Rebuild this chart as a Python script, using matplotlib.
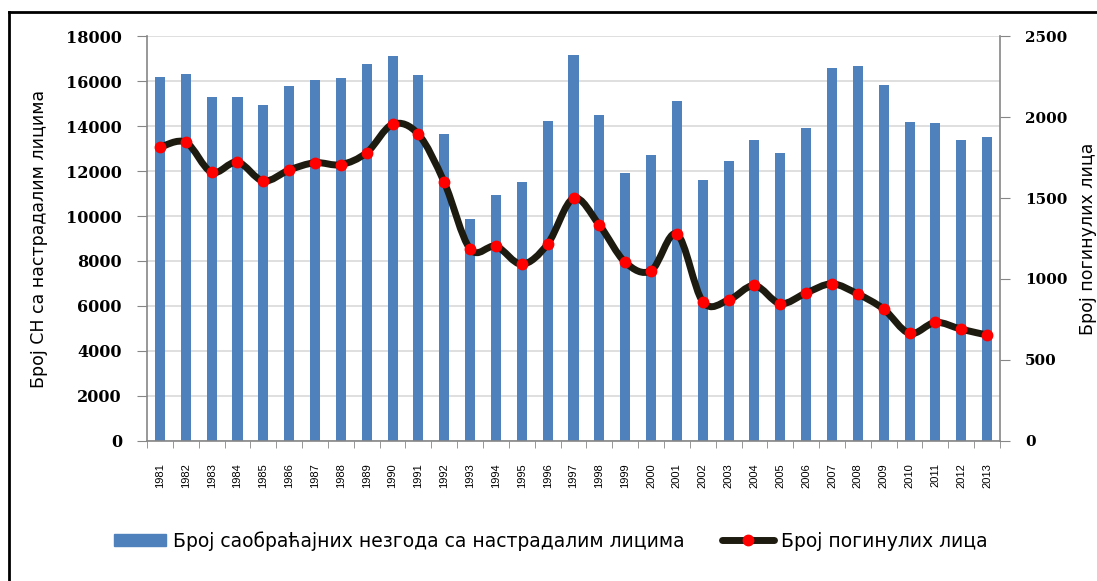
import numpy as np
import matplotlib
matplotlib.use("Agg")
import matplotlib.pyplot as plt
from matplotlib.patches import Patch, PathPatch
from matplotlib.lines import Line2D
from matplotlib.path import Path

years = [str(y) for y in range(1981, 2014)]

# broj saobracajnih nezgoda sa nastradalim licima (left axis)
accidents = [16200, 16320, 15290, 15290, 14930, 15780, 16030, 16120, 16770, 17130,
             16280, 13630, 9870, 10920, 11510, 14240, 17150, 14510, 11890, 12730,
             15110, 11590, 12430, 13380, 12780, 13930, 16600, 16650, 15810, 14170,
             14120, 13380, 13520]

# broj poginulih lica (right axis)
killed = [1813, 1844, 1659, 1722, 1605, 1673, 1718, 1706, 1780, 1955,
          1893, 1597, 1185, 1202, 1091, 1216, 1498, 1333, 1103, 1051,
          1278, 860, 870, 960, 848, 914, 970, 907, 814, 664,
          732, 690, 654]

BLUE = "#4F81BD"
LINE = "#1D1B10"
GRID = "#D9D9D9"
AXC = "#868686"


def smooth_path(x, y, t=1.0 / 6):
    # excel style smoothed line: catmull-rom as cubic bezier segments
    pts = np.column_stack([x, y]).astype(float)
    n = len(pts)
    verts = [pts[0]]
    codes = [Path.MOVETO]
    for i in range(n - 1):
        p0 = pts[i - 1] if i > 0 else pts[i]
        p1 = pts[i]
        p2 = pts[i + 1]
        p3 = pts[i + 2] if i + 2 < n else pts[i + 1]
        c1 = p1 + (p2 - p0) * t
        c2 = p2 - (p3 - p1) * t
        verts += [c1, c2, p2]
        codes += [Path.CURVE4] * 3
    return Path(verts, codes)


fig = plt.figure(figsize=(10.97, 5.81), dpi=100)
ax = fig.add_axes([0.134, 0.241, 0.9116 - 0.134, 0.938 - 0.241])
x = np.arange(len(years))

ax.bar(x, accidents, width=0.39, color=BLUE, zorder=2)
ax.set_xlim(-0.5, len(years) - 0.5)
ax.set_ylim(0, 18000)
ax.set_yticks(range(0, 18001, 2000))
ax.yaxis.grid(True, color=GRID, lw=1.2, zorder=0)
ax.set_axisbelow(True)

ax.set_xticks(x)
ax.set_xticklabels(years, rotation=90, fontsize=8, family="Liberation Sans")
ax.set_xticks(np.arange(-0.5, len(years)), minor=True)
ax.tick_params(axis="x", which="major", length=0, pad=16)
ax.tick_params(axis="x", which="minor", length=5, color=AXC, direction="out")
ax.tick_params(axis="y", length=7, color=AXC, pad=11)
for lab in ax.get_yticklabels():
    lab.set_family("DejaVu Serif")
    lab.set_fontweight("bold")
    lab.set_fontsize(11.5)

for s in ["top", "right"]:
    ax.spines[s].set_visible(False)
for s in ["left", "bottom"]:
    ax.spines[s].set_color(AXC)
    ax.spines[s].set_linewidth(1.2)

ax.set_ylabel("Број СН са настрадалим лицима", fontsize=12.5, family="DejaVu Sans", labelpad=13)

ax2 = ax.twinx()
ax2.set_ylim(0, 2500)
ax2.set_yticks(range(0, 2501, 500))
ax2.tick_params(axis="y", length=7, color=AXC, pad=11)
for lab in ax2.get_yticklabels():
    lab.set_family("DejaVu Serif")
    lab.set_fontweight("bold")
    lab.set_fontsize(11)
for s in ["top", "left", "bottom"]:
    ax2.spines[s].set_visible(False)
ax2.spines["right"].set_color(AXC)
ax2.spines["right"].set_linewidth(1.2)
ax2.set_ylabel("Број погинулих лица", fontsize=12.5, family="DejaVu Sans", labelpad=8)

ax2.add_patch(PathPatch(smooth_path(x, killed), fill=False, edgecolor=LINE, lw=5,
                        capstyle="round", joinstyle="round", zorder=3))
ax2.plot(x, killed, ls="none", marker="o", ms=7.5, color="#FF0000", mec="#FF0000", zorder=4)

handles = [Patch(facecolor=BLUE, edgecolor=BLUE),
           Line2D([0], [0], color=LINE, lw=5, marker="o", ms=7.5,
                  mfc="#FF0000", mec="#FF0000", solid_capstyle="round")]
fig.legend(handles, ["Број саобраћајних незгода са настрадалим лицима", "Број погинулих лица"],
           loc="center", bbox_to_anchor=(0.502, 0.069), ncol=2, frameon=False,
           prop={"family": "DejaVu Sans", "size": 13.5}, handlelength=2.8,
           handleheight=0.6, handletextpad=0.35, columnspacing=2.0)

# outer frame (left and top edges only visible)
fig.add_artist(Line2D([9 / 1097, 9 / 1097], [0, 1 - 12 / 581], color="black", lw=2,
                      transform=fig.transFigure))
fig.add_artist(Line2D([9 / 1097, 1], [1 - 12 / 581, 1 - 12 / 581], color="black", lw=2,
                      transform=fig.transFigure))

fig.savefig("out.png", dpi=100)
